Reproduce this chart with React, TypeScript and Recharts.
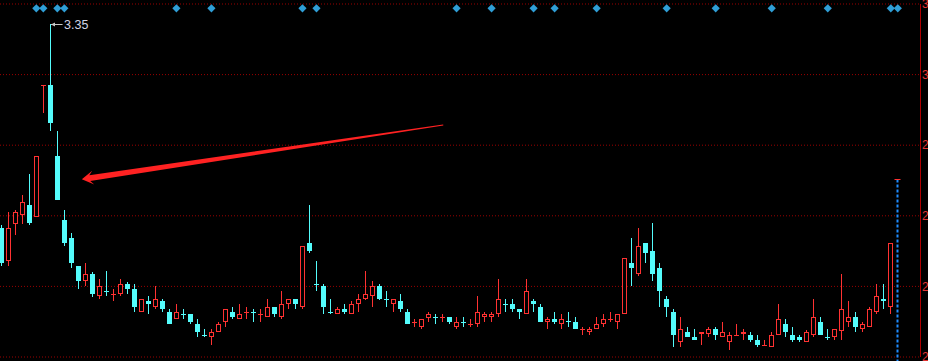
import {
  ComposedChart,
  Bar,
  XAxis,
  YAxis,
  CartesianGrid,
  ReferenceLine,
  ReferenceDot,
} from 'recharts';

// daily candles, oldest first
const opens = [
  2.739, 2.640, 2.749, 2.778, 2.807, 2.770, 3.163, 3.167, 2.954, 2.762,
  2.708, 2.624, 2.580, 2.600, 2.535, 2.548, 2.538, 2.541, 2.570, 2.554,
  2.487, 2.519, 2.502, 2.519, 2.486, 2.466, 2.481, 2.479, 2.450, 2.417,
  2.412, 2.427, 2.457, 2.486, 2.466, 2.484, 2.486, 2.479, 2.472, 2.501,
  2.472, 2.511, 2.525, 2.502, 2.693, 2.570, 2.564, 2.486, 2.481, 2.495,
  2.481, 2.510, 2.526, 2.535, 2.565, 2.525, 2.511, 2.519, 2.486, 2.455,
  2.442, 2.467, 2.472, 2.470, 2.471, 2.442, 2.456, 2.449, 2.451, 2.472,
  2.472, 2.481, 2.511, 2.510, 2.495, 2.481, 2.519, 2.501, 2.457, 2.465,
  2.451, 2.458, 2.456, 2.434, 2.427, 2.436, 2.451, 2.463, 2.457, 2.481,
  2.633, 2.600, 2.693, 2.669, 2.618, 2.525, 2.486, 2.397, 2.426, 2.411,
  2.419, 2.419, 2.435, 2.412, 2.397, 2.413, 2.419, 2.417, 2.402, 2.385,
  2.382, 2.418, 2.450, 2.417, 2.411, 2.397, 2.418, 2.456, 2.412, 2.412,
  2.428, 2.457, 2.471, 2.436, 2.442, 2.487, 2.525, 2.502,
];
const highs = [
  2.746, 2.786, 2.792, 2.837, 2.900, 2.953, 3.166, 3.350, 3.028, 2.792,
  2.723, 2.624, 2.633, 2.607, 2.585, 2.608, 2.554, 2.585, 2.576, 2.570,
  2.524, 2.534, 2.564, 2.525, 2.494, 2.510, 2.495, 2.479, 2.464, 2.435,
  2.435, 2.455, 2.494, 2.501, 2.510, 2.501, 2.495, 2.495, 2.525, 2.501,
  2.549, 2.524, 2.525, 2.684, 2.807, 2.639, 2.569, 2.525, 2.500, 2.510,
  2.519, 2.540, 2.609, 2.579, 2.570, 2.549, 2.524, 2.540, 2.495, 2.464,
  2.464, 2.486, 2.480, 2.480, 2.471, 2.471, 2.471, 2.464, 2.534, 2.486,
  2.486, 2.585, 2.525, 2.525, 2.495, 2.585, 2.525, 2.510, 2.471, 2.486,
  2.480, 2.486, 2.471, 2.442, 2.442, 2.471, 2.480, 2.486, 2.480, 2.647,
  2.708, 2.738, 2.693, 2.753, 2.633, 2.534, 2.495, 2.471, 2.441, 2.435,
  2.426, 2.441, 2.441, 2.456, 2.426, 2.450, 2.435, 2.426, 2.417, 2.403,
  2.426, 2.510, 2.464, 2.441, 2.417, 2.433, 2.525, 2.471, 2.434, 2.434,
  2.600, 2.519, 2.486, 2.456, 2.501, 2.570, 2.570, 2.693,
];
const lows = [
  2.625, 2.625, 2.718, 2.749, 2.748, 2.770, 3.084, 3.029, 2.823, 2.685,
  2.619, 2.556, 2.565, 2.532, 2.526, 2.535, 2.520, 2.534, 2.541, 2.486,
  2.487, 2.481, 2.496, 2.487, 2.450, 2.466, 2.465, 2.450, 2.412, 2.412,
  2.388, 2.427, 2.442, 2.466, 2.466, 2.466, 2.457, 2.457, 2.472, 2.472,
  2.466, 2.496, 2.496, 2.496, 2.664, 2.550, 2.481, 2.481, 2.481, 2.481,
  2.481, 2.487, 2.521, 2.502, 2.521, 2.502, 2.487, 2.487, 2.451, 2.442,
  2.436, 2.457, 2.450, 2.457, 2.450, 2.436, 2.442, 2.442, 2.442, 2.457,
  2.457, 2.472, 2.487, 2.487, 2.466, 2.481, 2.487, 2.457, 2.436, 2.450,
  2.436, 2.442, 2.436, 2.418, 2.418, 2.436, 2.442, 2.457, 2.436, 2.481,
  2.564, 2.595, 2.633, 2.579, 2.501, 2.471, 2.381, 2.381, 2.412, 2.403,
  2.388, 2.412, 2.403, 2.412, 2.373, 2.413, 2.403, 2.397, 2.381, 2.385,
  2.382, 2.418, 2.412, 2.397, 2.397, 2.397, 2.412, 2.418, 2.403, 2.403,
  2.403, 2.442, 2.427, 2.427, 2.442, 2.481, 2.496, 2.481,
];
const closes = [
  2.633, 2.738, 2.785, 2.815, 2.754, 2.953, 3.166, 3.053, 2.823, 2.694,
  2.634, 2.580, 2.600, 2.540, 2.564, 2.547, 2.539, 2.570, 2.556, 2.501,
  2.524, 2.511, 2.524, 2.495, 2.450, 2.485, 2.480, 2.457, 2.426, 2.416,
  2.426, 2.449, 2.494, 2.471, 2.479, 2.485, 2.485, 2.480, 2.500, 2.480,
  2.510, 2.524, 2.510, 2.684, 2.670, 2.569, 2.502, 2.485, 2.494, 2.487,
  2.510, 2.524, 2.540, 2.564, 2.525, 2.524, 2.524, 2.496, 2.451, 2.456,
  2.464, 2.480, 2.471, 2.471, 2.457, 2.455, 2.455, 2.450, 2.486, 2.480,
  2.480, 2.524, 2.510, 2.496, 2.487, 2.548, 2.510, 2.457, 2.465, 2.456,
  2.464, 2.457, 2.436, 2.435, 2.435, 2.450, 2.464, 2.464, 2.480, 2.647,
  2.618, 2.684, 2.664, 2.600, 2.550, 2.502, 2.418, 2.435, 2.412, 2.403,
  2.426, 2.435, 2.418, 2.426, 2.417, 2.416, 2.426, 2.403, 2.388, 2.387,
  2.417, 2.464, 2.426, 2.403, 2.403, 2.425, 2.471, 2.418, 2.411, 2.434,
  2.494, 2.471, 2.442, 2.450, 2.494, 2.533, 2.520, 2.693,
];

// bars flagged with a blue diamond along the top edge
const signalBars = [5, 6, 8, 9, 25, 30, 43, 45, 65, 70, 76, 79, 85, 95, 102, 110, 118, 127, 128];

// price scale lines on the right
const priceTicks = [2.351, 2.5628, 2.7746, 2.9864, 3.1982, 3.41];

const peakBar = 7;
const peakPrice = 3.35;
const limitBar = 128;
const limitPrice = 2.884;
const arrowTail = { x: 63.1, y: 3.047 };
const arrowTip = { x: 11.5, y: 2.884 };

const RED = '#ff3232';
const CYAN = '#54fcfc';
const SIGNAL_PRICE = 3.397;

const data = opens.map((open, i) => ({
  i,
  open,
  high: highs[i],
  low: lows[i],
  close: closes[i],
  range: [lows[i], highs[i]],
}));

const Candle = (props: any) => {
  const { x, y, width, height, payload } = props;
  if (x == null || payload == null) return null;
  const { open, close, high, low } = payload;
  const top = Math.min(y, y + height);
  const h = Math.abs(height);
  const py = (v: number) => top + ((high - v) / (high - low || 1)) * h;
  const cx = Math.floor(x + width / 2) + 0.5;
  const up = close >= open;
  const color = up ? RED : CYAN;
  const bt = Math.round(py(Math.max(open, close)));
  const bb = Math.round(py(Math.min(open, close)));
  const bodyH = bb - bt;
  let body;
  if (!up || bodyH <= 2) {
    body = <rect x={cx - 2.5} y={bt} width={5} height={Math.max(bodyH, 1)} fill={color} />;
  } else {
    body = (
      <rect x={cx - 2} y={bt + 0.5} width={4} height={bodyH - 1} fill="#000" stroke={color} strokeWidth={1} />
    );
  }
  return (
    <g>
      <line x1={cx} x2={cx} y1={Math.round(py(high))} y2={Math.round(py(low))} stroke={color} strokeWidth={1} />
      {body}
    </g>
  );
};

const Arrow = (p: any) => {
  const { x1, y1, x2, y2 } = p;
  const dx = x1 - x2;
  const dy = y1 - y2;
  const len = Math.hypot(dx, dy);
  const ux = dx / len;
  const uy = dy / len;
  const nx = -uy;
  const ny = ux;
  const pt = (along: number, side: number) =>
    `${x2 + ux * along + nx * side},${y2 + uy * along + ny * side}`;
  const points = [
    pt(len, 0.5),
    pt(8, 3),
    pt(11.5, 7),
    pt(0, 0),
    pt(11.5, -7),
    pt(8, -3),
    pt(len, -0.5),
  ].join(' ');
  return <polygon points={points} fill="#ff2222" />;
};

const PeakMark = (p: any) => {
  const { x1, y1, x2 } = p;
  const y = Math.round(y1) + 0.5;
  const x = Math.floor(x1) + 1;
  return (
    <g>
      <line x1={x} y1={y} x2={x2} y2={y} stroke="#c8c8c8" />
      <polygon points={`${x},${y} ${x + 4},${y - 2} ${x + 4},${y + 2}`} fill="#c8c8c8" />
      <text
        x={x2 + 1.5}
        y={y}
        dominantBaseline="central"
        fontSize={12.5}
        fontFamily="'Liberation Sans', Arial, sans-serif"
        fill="#cfd4e6"
      >
        {peakPrice.toFixed(2)}
      </text>
    </g>
  );
};

const LimitMark = (p: any) => {
  const { x1, y1, y2 } = p;
  const x = Math.floor(x1) + 0.5;
  const yt = Math.round(y1) + 0.5;
  return (
    <g>
      <line x1={x} y1={yt} x2={x} y2={y2 + 4} stroke="#1e8cff" strokeWidth={2} strokeDasharray="3 2" />
      <line x1={x - 3} x2={x + 3} y1={yt} y2={yt} stroke={RED} />
    </g>
  );
};

const Diamond = (p: any) => {
  const { cx, cy } = p;
  if (cx == null) return null;
  const r = 4.1;
  return (
    <polygon
      points={`${cx},${cy - r} ${cx + r},${cy} ${cx},${cy + r} ${cx - r},${cy}`}
      fill="#2f9ed6"
    />
  );
};

const App = () => {
  return (
    <div style={{ position: 'absolute', left: 0, top: 0, width: 928, height: 361, background: '#000' }}>
      <ComposedChart
        width={928}
        height={361}
        data={data}
        margin={{ top: 4, right: 0, bottom: 4, left: 0 }}
        style={{ background: '#000' }}
      >
        <CartesianGrid vertical={false} stroke="#9a0000" strokeDasharray="1 2" />
        <XAxis
          dataKey="i"
          type="number"
          domain={[-0.186, 131.24]}
          tickCount={132}
          allowDataOverflow
          hide
        />
        <YAxis
          orientation="right"
          type="number"
          domain={[priceTicks[0], priceTicks[priceTicks.length - 1]]}
          ticks={priceTicks}
          interval={0}
          allowDataOverflow
          width={7.5}
          axisLine={{ stroke: '#b00000' }}
          tickLine={false}
          tickSize={0}
          tickMargin={1.5}
          tickFormatter={(v: number) => v.toFixed(2)}
          tick={{ fill: '#e03434', fontSize: 12, fontFamily: "'Liberation Sans', Arial, sans-serif" }}
        />
        <Bar dataKey="range" barSize={5} shape={Candle} isAnimationActive={false} />
        <ReferenceLine
          segment={[{ x: peakBar, y: peakPrice }, { x: peakBar + 1.75, y: peakPrice }]}
          shape={PeakMark}
        />
        <ReferenceLine
          segment={[{ x: limitBar, y: limitPrice }, { x: limitBar, y: priceTicks[0] }]}
          shape={LimitMark}
        />
        <ReferenceLine segment={[arrowTail, arrowTip]} shape={Arrow} />
        {signalBars.map((b) => (
          <ReferenceDot key={b} x={b} y={SIGNAL_PRICE} shape={Diamond} />
        ))}
      </ComposedChart>
    </div>
  );
};

export default App;
